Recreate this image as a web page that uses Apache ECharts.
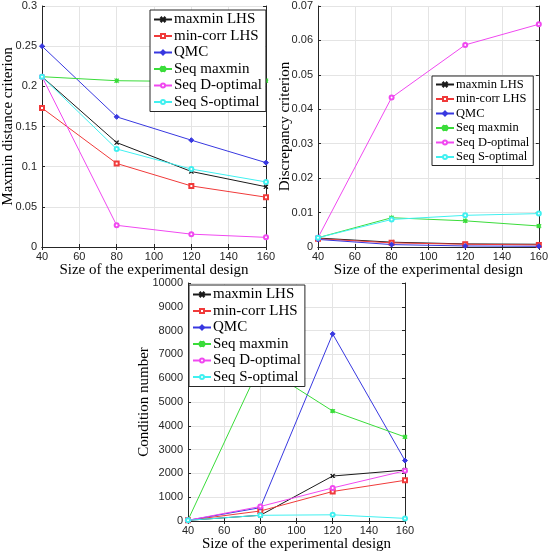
<!DOCTYPE html>
<html>
<head>
<meta charset="utf-8">
<script src="https://cdn.jsdelivr.net/npm/echarts@6/dist/echarts.min.js"></script>
<style>
  html, body { margin: 0; padding: 0; background: #fff; }
  #main { width: 551px; height: 553px; }
</style>
</head>
<body>
<div id="main"></div>
<script>
// design sizes (x axis for all three panels)
const sizes = [40, 80, 120, 160]
const seriesNames = ['maxmin LHS', 'min-corr LHS', 'QMC', 'Seq maxmin', 'Seq D-optimal', 'Seq S-optimal']

// panel 1: maxmin distance criterion
const maxminLhsDist = [0.212, 0.130, 0.094, 0.075]
const minCorrDist = [0.173, 0.104, 0.076, 0.062]
const qmcDist = [0.250, 0.162, 0.133, 0.105]
const seqMaxminDist = [0.212, 0.207, 0.206, 0.207]
const seqDoptDist = [0.212, 0.027, 0.016, 0.012]
const seqSoptDist = [0.212, 0.122, 0.097, 0.081]

// panel 2: discrepancy criterion
const maxminLhsDisc = [0.0026, 0.0014, 0.0009, 0.0008]
const minCorrDisc = [0.0024, 0.0012, 0.0008, 0.0006]
const qmcDisc = [0.0022, 0.0007, 0.0003, 0.0002]
const seqMaxminDisc = [0.0027, 0.0085, 0.0076, 0.0061]
const seqDoptDisc = [0.0027, 0.0434, 0.0587, 0.0647]
const seqSoptDisc = [0.0027, 0.0080, 0.0092, 0.0097]

// panel 3: condition number
const maxminLhsCond = [30, 240, 1890, 2140]
const minCorrCond = [30, 420, 1240, 1710]
const qmcCond = [30, 560, 7860, 2540]
const seqMaxminCond = [40, 6550, 4620, 3530]
const seqDoptCond = [30, 610, 1390, 2110]
const seqSoptCond = [30, 240, 260, 110]

const colors = ['#1a1a1a', '#f03a3a', '#3838e0', '#3adc3a', '#f048f0', '#40f0f0']
const crossPath = 'path://M0,1L1,0L5,4L9,0L10,1L6,5L10,9L9,10L5,6L1,10L0,9L4,5Z'
const starPath = 'path://M0,1L1,0L5,4L9,0L10,1L6,5L10,9L9,10L5,6L1,10L0,9L4,5Z M4.4,0H5.6V10H4.4Z M0,4.4H10V5.6H0Z'
const symbols = [crossPath, 'emptyRect', 'diamond', starPath, 'emptyCircle', 'emptyCircle']

const panels = [
    [maxminLhsDist, minCorrDist, qmcDist, seqMaxminDist, seqDoptDist, seqSoptDist],
    [maxminLhsDisc, minCorrDisc, qmcDisc, seqMaxminDisc, seqDoptDisc, seqSoptDisc],
    [maxminLhsCond, minCorrCond, qmcCond, seqMaxminCond, seqDoptCond, seqSoptCond],
]
const yNames = ['Maxmin distance criterion', 'Discrepancy criterion', 'Condition number']
const yMax = [0.3, 0.07, 10000]
const yStep = [0.05, 0.01, 1000]
const yNameGaps = [26, 25, 36]

const serif = 'Liberation Serif'
const sans = 'Liberation Sans'

const grids = [
    { left: 40, top: 6, width: 226, height: 241 },
    { left: 318, top: 6, width: 226, height: 241 },
    { left: 188, top: 283, width: 217, height: 240 },
]

const xAxes = []
const yAxes = []
grids.forEach((g, i) => {
    xAxes.push({
        type: 'value', gridIndex: i, min: 40, max: 160, interval: 20,
        name: 'Size of the experimental design', nameLocation: 'middle', nameGap: 16,
        nameMoveOverlap: false,
        nameTextStyle: { fontFamily: serif, fontSize: 15, color: '#000' },
        axisLine: { lineStyle: { color: '#262626' } },
        axisTick: { inside: true, length: 3, lineStyle: { color: '#262626' } },
        axisLabel: { fontFamily: sans, fontSize: 11, color: '#262626', margin: 4 },
        splitLine: { show: true, lineStyle: { color: '#e4e4e4' } },
    })
    xAxes.push({
        type: 'value', gridIndex: i, min: 40, max: 160, interval: 20, position: 'top',
        axisLine: { lineStyle: { color: '#262626' } },
        axisTick: { inside: true, length: 3, lineStyle: { color: '#262626' } },
        axisLabel: { show: false }, splitLine: { show: false },
    })
    yAxes.push({
        type: 'value', gridIndex: i, min: 0, max: yMax[i], interval: yStep[i],
        name: yNames[i], nameLocation: 'middle', nameGap: yNameGaps[i],
        nameMoveOverlap: false,
        nameTextStyle: { fontFamily: serif, fontSize: 15, color: '#000' },
        axisLine: { show: true, lineStyle: { color: '#262626' } },
        axisTick: { show: true, inside: true, length: 3, lineStyle: { color: '#262626' } },
        axisLabel: { fontFamily: sans, fontSize: 11, color: '#262626', margin: 5, formatter: v => String(v) },
        splitLine: { show: true, lineStyle: { color: '#e4e4e4' } },
    })
    yAxes.push({
        type: 'value', gridIndex: i, min: 0, max: yMax[i], interval: yStep[i], position: 'right',
        axisLine: { show: true, lineStyle: { color: '#262626' } },
        axisTick: { show: true, inside: true, length: 3, lineStyle: { color: '#262626' } },
        axisLabel: { show: false }, splitLine: { show: false },
    })
})

const series = []
panels.forEach((panel, p) => {
    panel.forEach((vals, k) => {
        series.push({
            name: seriesNames[k],
            type: 'line',
            xAxisIndex: p * 2,
            yAxisIndex: p * 2,
            data: sizes.map((x, j) => [x, vals[j]]),
            symbol: symbols[k],
            symbolSize: k === 2 ? 5 : 4,
            showSymbol: true,
            color: colors[k],
            lineStyle: { width: 1, color: colors[k] },
            itemStyle: { color: colors[k], borderColor: colors[k], borderWidth: 1 },
            animation: false,
            z: 3,
        })
    })
})

function makeLegend(left, top, fontSize, gap) {
    return {
        orient: 'vertical', left: left, top: top,
        data: seriesNames,
        backgroundColor: '#fff', borderColor: '#262626', borderWidth: 1,
        padding: [2, 4, 2, 3], itemGap: gap, itemWidth: 18, itemHeight: 5,
        textStyle: { fontFamily: serif, fontSize: fontSize, color: '#000', padding: [0, 0, 0, -3] },
        selectedMode: false,
    }
}

const chart = echarts.init(document.getElementById('main'))
chart.setOption({
    animation: false,
    grid: grids.map(g => Object.assign({ show: false }, g)),
    xAxis: xAxes,
    yAxis: yAxes,
    legend: [
        makeLegend(150, 10, 15, 1.5),
        makeLegend(432, 76, 12.5, 1.5),
        makeLegend(189, 285, 15, 1.5),
    ],
    series: series,
})
window.addEventListener('resize', () => chart.resize())
</script>
</body>
</html>
